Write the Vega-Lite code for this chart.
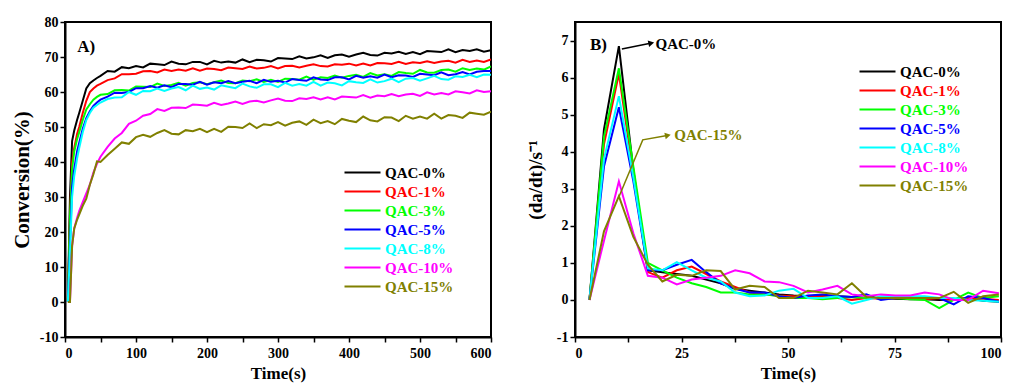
{
"$schema": "https://vega.github.io/schema/vega-lite/v6.json",
"background": "white",
"padding": {"left": 10, "top": 14, "right": 5, "bottom": 2},
"datasets": {
"conv": [
{"t":4,"QAC-0%":0,"QAC-1%":0,"QAC-3%":0,"QAC-5%":0,"QAC-8%":0,"QAC-10%":0,"QAC-15%":0},
{"t":7,"QAC-0%":30,"QAC-1%":25,"QAC-3%":24,"QAC-5%":16,"QAC-8%":14,"QAC-10%":0,"QAC-15%":0},
{"t":10,"QAC-0%":46,"QAC-1%":40,"QAC-3%":38,"QAC-5%":33,"QAC-8%":30,"QAC-10%":16,"QAC-15%":16},
{"t":13,"QAC-0%":49,"QAC-1%":44,"QAC-3%":43,"QAC-5%":38,"QAC-8%":36,"QAC-10%":21,"QAC-15%":21},
{"t":17,"QAC-0%":52,"QAC-1%":48,"QAC-3%":46.5,"QAC-5%":43,"QAC-8%":41,"QAC-10%":24,"QAC-15%":23.5},
{"t":20,"QAC-0%":54,"QAC-1%":50,"QAC-3%":48.5,"QAC-5%":45.5,"QAC-8%":44,"QAC-10%":26,"QAC-15%":25},
{"t":25,"QAC-0%":57.5,"QAC-1%":54,"QAC-3%":52,"QAC-5%":49.5,"QAC-8%":48.5,"QAC-10%":28.5,"QAC-15%":27.5},
{"t":30,"QAC-0%":61,"QAC-1%":57.5,"QAC-3%":55,"QAC-5%":52.5,"QAC-8%":52,"QAC-10%":31,"QAC-15%":29.5},
{"t":35,"QAC-0%":62.5,"QAC-1%":60,"QAC-3%":56.5,"QAC-5%":54.5,"QAC-8%":54,"QAC-10%":33.5,"QAC-15%":33.5},
{"t":40,"QAC-0%":63.3,"QAC-1%":61,"QAC-3%":57.8,"QAC-5%":56,"QAC-8%":55.5,"QAC-10%":37,"QAC-15%":36.5},
{"t":45,"QAC-0%":64,"QAC-1%":61.8,"QAC-3%":58.6,"QAC-5%":57,"QAC-8%":56.3,"QAC-10%":39.5,"QAC-15%":40.2},
{"t":50,"QAC-0%":64.6,"QAC-1%":62.3,"QAC-3%":59.2,"QAC-5%":57.8,"QAC-8%":57,"QAC-10%":41.5,"QAC-15%":40.0},
{"t":60,"QAC-0%":66.0,"QAC-1%":63.4,"QAC-3%":59.4,"QAC-5%":58.7,"QAC-8%":58.0,"QAC-10%":44.3,"QAC-15%":42.0},
{"t":70,"QAC-0%":65.8,"QAC-1%":63.9,"QAC-3%":60.5,"QAC-5%":59.8,"QAC-8%":58.4,"QAC-10%":46.7,"QAC-15%":43.8},
{"t":80,"QAC-0%":67.1,"QAC-1%":65.1,"QAC-3%":60.6,"QAC-5%":59.7,"QAC-8%":58.5,"QAC-10%":48.3,"QAC-15%":45.6},
{"t":90,"QAC-0%":66.8,"QAC-1%":65.1,"QAC-3%":60.4,"QAC-5%":60.0,"QAC-8%":60.0,"QAC-10%":50.9,"QAC-15%":45.2},
{"t":100,"QAC-0%":67.4,"QAC-1%":65.2,"QAC-3%":61.6,"QAC-5%":61.1,"QAC-8%":59.2,"QAC-10%":51.8,"QAC-15%":47.1},
{"t":110,"QAC-0%":67.0,"QAC-1%":65.9,"QAC-3%":61.5,"QAC-5%":61.1,"QAC-8%":60.3,"QAC-10%":53.2,"QAC-15%":47.8},
{"t":120,"QAC-0%":68.1,"QAC-1%":66.0,"QAC-3%":61.4,"QAC-5%":61.7,"QAC-8%":60.2,"QAC-10%":53.7,"QAC-15%":47.2},
{"t":130,"QAC-0%":67.9,"QAC-1%":65.6,"QAC-3%":62.4,"QAC-5%":61.2,"QAC-8%":61.0,"QAC-10%":55.1,"QAC-15%":48.3},
{"t":140,"QAC-0%":67.7,"QAC-1%":66.4,"QAC-3%":61.7,"QAC-5%":61.9,"QAC-8%":60.3,"QAC-10%":54.6,"QAC-15%":49.1},
{"t":150,"QAC-0%":68.7,"QAC-1%":66.0,"QAC-3%":62.0,"QAC-5%":61.4,"QAC-8%":61.0,"QAC-10%":55.5,"QAC-15%":48.1},
{"t":160,"QAC-0%":68.1,"QAC-1%":66.4,"QAC-3%":62.6,"QAC-5%":62.3,"QAC-8%":61.4,"QAC-10%":55.6,"QAC-15%":47.9},
{"t":170,"QAC-0%":67.9,"QAC-1%":66.1,"QAC-3%":61.8,"QAC-5%":62.3,"QAC-8%":60.5,"QAC-10%":55.4,"QAC-15%":49.1},
{"t":180,"QAC-0%":68.6,"QAC-1%":66.8,"QAC-3%":62.6,"QAC-5%":62.1,"QAC-8%":61.8,"QAC-10%":56.4,"QAC-15%":48.8},
{"t":190,"QAC-0%":68.6,"QAC-1%":66.1,"QAC-3%":62.8,"QAC-5%":62.9,"QAC-8%":60.9,"QAC-10%":56.3,"QAC-15%":49.5},
{"t":200,"QAC-0%":67.9,"QAC-1%":66.7,"QAC-3%":62.2,"QAC-5%":62.1,"QAC-8%":61.3,"QAC-10%":56.1,"QAC-15%":48.5},
{"t":210,"QAC-0%":68.9,"QAC-1%":66.6,"QAC-3%":62.8,"QAC-5%":62.8,"QAC-8%":60.7,"QAC-10%":56.9,"QAC-15%":49.5},
{"t":220,"QAC-0%":68.4,"QAC-1%":66.2,"QAC-3%":63.3,"QAC-5%":62.5,"QAC-8%":61.9,"QAC-10%":56.3,"QAC-15%":48.6},
{"t":230,"QAC-0%":68.7,"QAC-1%":67.0,"QAC-3%":62.6,"QAC-5%":63.1,"QAC-8%":61.5,"QAC-10%":56.7,"QAC-15%":50.1},
{"t":240,"QAC-0%":68.4,"QAC-1%":66.8,"QAC-3%":62.5,"QAC-5%":62.5,"QAC-8%":61.1,"QAC-10%":57.3,"QAC-15%":50.0},
{"t":250,"QAC-0%":69.3,"QAC-1%":66.6,"QAC-3%":63.3,"QAC-5%":62.9,"QAC-8%":62.4,"QAC-10%":56.6,"QAC-15%":49.7},
{"t":260,"QAC-0%":68.5,"QAC-1%":67.3,"QAC-3%":63.1,"QAC-5%":63.2,"QAC-8%":61.6,"QAC-10%":57.3,"QAC-15%":51.0},
{"t":270,"QAC-0%":69.2,"QAC-1%":66.7,"QAC-3%":63.6,"QAC-5%":62.5,"QAC-8%":61.2,"QAC-10%":57.5,"QAC-15%":49.7},
{"t":280,"QAC-0%":69.1,"QAC-1%":66.9,"QAC-3%":62.9,"QAC-5%":63.5,"QAC-8%":62.2,"QAC-10%":57.0,"QAC-15%":50.8},
{"t":290,"QAC-0%":68.7,"QAC-1%":67.4,"QAC-3%":63.5,"QAC-5%":62.9,"QAC-8%":62.2,"QAC-10%":57.6,"QAC-15%":50.5},
{"t":300,"QAC-0%":69.7,"QAC-1%":66.7,"QAC-3%":62.9,"QAC-5%":63.2,"QAC-8%":61.4,"QAC-10%":58.1,"QAC-15%":51.4},
{"t":310,"QAC-0%":69.6,"QAC-1%":67.4,"QAC-3%":63.8,"QAC-5%":62.7,"QAC-8%":62.6,"QAC-10%":57.5,"QAC-15%":50.4},
{"t":320,"QAC-0%":69.4,"QAC-1%":67.5,"QAC-3%":63.7,"QAC-5%":63.7,"QAC-8%":61.8,"QAC-10%":57.4,"QAC-15%":51.2},
{"t":330,"QAC-0%":70.2,"QAC-1%":67.0,"QAC-3%":63.5,"QAC-5%":63.4,"QAC-8%":62.3,"QAC-10%":58.2,"QAC-15%":51.6},
{"t":340,"QAC-0%":69.6,"QAC-1%":67.5,"QAC-3%":64.4,"QAC-5%":63.2,"QAC-8%":61.8,"QAC-10%":58.0,"QAC-15%":50.6},
{"t":350,"QAC-0%":69.9,"QAC-1%":67.9,"QAC-3%":63.5,"QAC-5%":64.2,"QAC-8%":62.9,"QAC-10%":58.5,"QAC-15%":52.1},
{"t":360,"QAC-0%":70.5,"QAC-1%":67.4,"QAC-3%":64.2,"QAC-5%":63.6,"QAC-8%":61.8,"QAC-10%":57.9,"QAC-15%":51.1},
{"t":370,"QAC-0%":69.7,"QAC-1%":67.3,"QAC-3%":64.0,"QAC-5%":63.4,"QAC-8%":62.7,"QAC-10%":58.5,"QAC-15%":51.7},
{"t":380,"QAC-0%":70.5,"QAC-1%":67.9,"QAC-3%":64.7,"QAC-5%":64.2,"QAC-8%":62.5,"QAC-10%":57.9,"QAC-15%":50.8},
{"t":390,"QAC-0%":70.7,"QAC-1%":67.8,"QAC-3%":64.1,"QAC-5%":64.2,"QAC-8%":61.9,"QAC-10%":58.7,"QAC-15%":52.3},
{"t":400,"QAC-0%":70.1,"QAC-1%":68.1,"QAC-3%":64.6,"QAC-5%":63.6,"QAC-8%":63.1,"QAC-10%":58.6,"QAC-15%":51.8},
{"t":410,"QAC-0%":70.7,"QAC-1%":67.6,"QAC-3%":64.9,"QAC-5%":64.6,"QAC-8%":62.8,"QAC-10%":58.4,"QAC-15%":51.4},
{"t":420,"QAC-0%":71.2,"QAC-1%":68.1,"QAC-3%":64.3,"QAC-5%":64.1,"QAC-8%":62.6,"QAC-10%":59.1,"QAC-15%":53.0},
{"t":430,"QAC-0%":70.6,"QAC-1%":67.6,"QAC-3%":65.4,"QAC-5%":64.5,"QAC-8%":63.6,"QAC-10%":58.4,"QAC-15%":51.9},
{"t":440,"QAC-0%":70.4,"QAC-1%":68.3,"QAC-3%":64.7,"QAC-5%":64.1,"QAC-8%":62.7,"QAC-10%":59.0,"QAC-15%":51.6},
{"t":450,"QAC-0%":71.2,"QAC-1%":68.2,"QAC-3%":65.1,"QAC-5%":65.0,"QAC-8%":63.1,"QAC-10%":58.8,"QAC-15%":52.8},
{"t":460,"QAC-0%":71.0,"QAC-1%":68.0,"QAC-3%":64.6,"QAC-5%":64.2,"QAC-8%":63.8,"QAC-10%":59.4,"QAC-15%":52.7},
{"t":470,"QAC-0%":71.5,"QAC-1%":68.6,"QAC-3%":65.7,"QAC-5%":64.8,"QAC-8%":62.8,"QAC-10%":58.8,"QAC-15%":51.7},
{"t":480,"QAC-0%":70.9,"QAC-1%":68.0,"QAC-3%":65.4,"QAC-5%":64.7,"QAC-8%":63.8,"QAC-10%":59.3,"QAC-15%":53.2},
{"t":490,"QAC-0%":71.4,"QAC-1%":68.5,"QAC-3%":65.2,"QAC-5%":64.3,"QAC-8%":64.0,"QAC-10%":59.5,"QAC-15%":52.4},
{"t":500,"QAC-0%":70.8,"QAC-1%":68.3,"QAC-3%":66.3,"QAC-5%":65.2,"QAC-8%":63.2,"QAC-10%":58.9,"QAC-15%":53.0},
{"t":510,"QAC-0%":71.7,"QAC-1%":68.8,"QAC-3%":65.6,"QAC-5%":65.0,"QAC-8%":63.9,"QAC-10%":59.9,"QAC-15%":52.4},
{"t":520,"QAC-0%":71.6,"QAC-1%":68.3,"QAC-3%":65.5,"QAC-5%":64.8,"QAC-8%":64.6,"QAC-10%":59.3,"QAC-15%":53.8},
{"t":530,"QAC-0%":71.4,"QAC-1%":68.7,"QAC-3%":66.3,"QAC-5%":65.6,"QAC-8%":63.7,"QAC-10%":59.7,"QAC-15%":52.4},
{"t":540,"QAC-0%":72.2,"QAC-1%":68.9,"QAC-3%":66.4,"QAC-5%":64.8,"QAC-8%":63.5,"QAC-10%":59.3,"QAC-15%":53.4},
{"t":550,"QAC-0%":71.4,"QAC-1%":68.4,"QAC-3%":65.8,"QAC-5%":65.1,"QAC-8%":64.5,"QAC-10%":60.2,"QAC-15%":53.2},
{"t":560,"QAC-0%":72.0,"QAC-1%":69.2,"QAC-3%":66.8,"QAC-5%":65.7,"QAC-8%":64.3,"QAC-10%":59.9,"QAC-15%":52.6},
{"t":570,"QAC-0%":71.7,"QAC-1%":68.6,"QAC-3%":66.3,"QAC-5%":65.0,"QAC-8%":64.9,"QAC-10%":59.6,"QAC-15%":54.1},
{"t":580,"QAC-0%":72.2,"QAC-1%":69.0,"QAC-3%":66.7,"QAC-5%":65.8,"QAC-8%":64.2,"QAC-10%":60.5,"QAC-15%":53.8},
{"t":590,"QAC-0%":71.5,"QAC-1%":68.6,"QAC-3%":66.4,"QAC-5%":66.0,"QAC-8%":65.0,"QAC-10%":60.0,"QAC-15%":53.5},
{"t":600,"QAC-0%":71.9,"QAC-1%":69.3,"QAC-3%":67.3,"QAC-5%":66.0,"QAC-8%":64.9,"QAC-10%":60.2,"QAC-15%":54.4}
],
"rate": [
{"t":3.4,"QAC-0%":0,"QAC-1%":0,"QAC-3%":0,"QAC-5%":0,"QAC-8%":0,"QAC-10%":0,"QAC-15%":0},
{"t":6.8,"QAC-0%":4.6,"QAC-1%":4.2,"QAC-3%":4.4,"QAC-5%":3.6,"QAC-8%":3.8,"QAC-10%":1.6,"QAC-15%":1.85},
{"t":10.3,"QAC-0%":6.85,"QAC-1%":6.1,"QAC-3%":6.25,"QAC-5%":5.2,"QAC-8%":5.5,"QAC-10%":3.2,"QAC-15%":2.8},
{"t":13.7,"QAC-0%":3.5,"QAC-1%":3.4,"QAC-3%":3.6,"QAC-5%":3.2,"QAC-8%":3.3,"QAC-10%":1.8,"QAC-15%":1.7},
{"t":17.1,"QAC-0%":0.8,"QAC-1%":0.75,"QAC-3%":1.0,"QAC-5%":0.8,"QAC-8%":0.85,"QAC-10%":0.65,"QAC-15%":0.95},
{"t":20.5,"QAC-0%":0.75,"QAC-1%":0.6,"QAC-3%":0.8,"QAC-5%":0.8,"QAC-8%":0.8,"QAC-10%":0.6,"QAC-15%":0.5},
{"t":23.9,"QAC-0%":0.7,"QAC-1%":0.8,"QAC-3%":0.6,"QAC-5%":0.95,"QAC-8%":1.02,"QAC-10%":0.42,"QAC-15%":0.68},
{"t":27.4,"QAC-0%":0.65,"QAC-1%":0.9,"QAC-3%":0.45,"QAC-5%":1.08,"QAC-8%":0.8,"QAC-10%":0.55,"QAC-15%":0.65},
{"t":30.8,"QAC-0%":0.55,"QAC-1%":0.7,"QAC-3%":0.35,"QAC-5%":0.75,"QAC-8%":0.6,"QAC-10%":0.6,"QAC-15%":0.8},
{"t":34.2,"QAC-0%":0.45,"QAC-1%":0.5,"QAC-3%":0.2,"QAC-5%":0.45,"QAC-8%":0.5,"QAC-10%":0.65,"QAC-15%":0.78},
{"t":37.6,"QAC-0%":0.3,"QAC-1%":0.35,"QAC-3%":0.2,"QAC-5%":0.3,"QAC-8%":0.2,"QAC-10%":0.8,"QAC-15%":0.28},
{"t":41.0,"QAC-0%":0.25,"QAC-1%":0.2,"QAC-3%":0.15,"QAC-5%":0.2,"QAC-8%":0.1,"QAC-10%":0.72,"QAC-15%":0.38},
{"t":44.5,"QAC-0%":0.2,"QAC-1%":0.15,"QAC-3%":0.15,"QAC-5%":0.2,"QAC-8%":0.12,"QAC-10%":0.5,"QAC-15%":0.35},
{"t":47.9,"QAC-0%":0.15,"QAC-1%":0.12,"QAC-3%":0.1,"QAC-5%":0.1,"QAC-8%":0.25,"QAC-10%":0.48,"QAC-15%":0.05},
{"t":51.3,"QAC-0%":0.12,"QAC-1%":0.1,"QAC-3%":0.05,"QAC-5%":0.05,"QAC-8%":0.3,"QAC-10%":0.38,"QAC-15%":0.05},
{"t":54.7,"QAC-0%":0.1,"QAC-1%":0.08,"QAC-3%":0.05,"QAC-5%":0.12,"QAC-8%":0.05,"QAC-10%":0.2,"QAC-15%":0.25},
{"t":58.1,"QAC-0%":0.12,"QAC-1%":0.1,"QAC-3%":0.02,"QAC-5%":0.15,"QAC-8%":0.05,"QAC-10%":0.28,"QAC-15%":0.2},
{"t":61.6,"QAC-0%":0.1,"QAC-1%":0.05,"QAC-3%":0.05,"QAC-5%":0.1,"QAC-8%":0.1,"QAC-10%":0.38,"QAC-15%":0.15},
{"t":65.0,"QAC-0%":0.08,"QAC-1%":0.0,"QAC-3%":0.08,"QAC-5%":0.08,"QAC-8%":-0.1,"QAC-10%":0.15,"QAC-15%":0.45},
{"t":68.4,"QAC-0%":0.05,"QAC-1%":0.05,"QAC-3%":0.05,"QAC-5%":0.15,"QAC-8%":0.0,"QAC-10%":0.1,"QAC-15%":0.08},
{"t":71.8,"QAC-0%":0.05,"QAC-1%":0.03,"QAC-3%":0.05,"QAC-5%":0.0,"QAC-8%":0.1,"QAC-10%":0.15,"QAC-15%":0.05},
{"t":75.2,"QAC-0%":0.03,"QAC-1%":0.05,"QAC-3%":0.05,"QAC-5%":0.05,"QAC-8%":0.1,"QAC-10%":0.12,"QAC-15%":0.05},
{"t":78.7,"QAC-0%":0.02,"QAC-1%":0.05,"QAC-3%":0.02,"QAC-5%":0.05,"QAC-8%":0.1,"QAC-10%":0.12,"QAC-15%":0.05},
{"t":82.1,"QAC-0%":0.02,"QAC-1%":0.02,"QAC-3%":0.0,"QAC-5%":0.05,"QAC-8%":0.1,"QAC-10%":0.2,"QAC-15%":0.05},
{"t":85.5,"QAC-0%":0.0,"QAC-1%":0.05,"QAC-3%":-0.22,"QAC-5%":0.05,"QAC-8%":0.05,"QAC-10%":0.15,"QAC-15%":0.05},
{"t":88.9,"QAC-0%":0.02,"QAC-1%":0.0,"QAC-3%":0.0,"QAC-5%":-0.12,"QAC-8%":0.05,"QAC-10%":0.0,"QAC-15%":0.22},
{"t":92.3,"QAC-0%":0.05,"QAC-1%":0.05,"QAC-3%":0.2,"QAC-5%":0.1,"QAC-8%":0.0,"QAC-10%":0.0,"QAC-15%":-0.08},
{"t":95.8,"QAC-0%":-0.02,"QAC-1%":0.03,"QAC-3%":0.05,"QAC-5%":0.05,"QAC-8%":-0.02,"QAC-10%":0.25,"QAC-15%":0.1},
{"t":99.5,"QAC-0%":-0.05,"QAC-1%":0.0,"QAC-3%":0.1,"QAC-5%":-0.05,"QAC-8%":-0.05,"QAC-10%":0.18,"QAC-15%":0.15}
]
},
"hconcat": [
{
"width": 426, "height": 315,
"layer": [
{
"data": {"name": "conv"},
"transform": [{"fold": ["QAC-0%","QAC-1%","QAC-3%","QAC-5%","QAC-8%","QAC-10%","QAC-15%"], "as": ["series","value"]}],
"mark": {"type": "line", "strokeWidth": 2, "clip": true},
"encoding": {
"x": {"field": "t", "type": "quantitative", "scale": {"domain": [0,600], "nice": false, "zero": false},
 "axis": {"title": "Time(s)", "values": [0,50,100,150,200,250,300,350,400,450,500,550,600], "tickCount": 100, "format": "d", "labelExpr": "datum.value % 100 === 0 ? datum.label : ''", "labelPadding": 4, "titlePadding": 5}},
"y": {"field": "value", "type": "quantitative", "scale": {"domain": [-10,80], "nice": false, "zero": false},
 "axis": {"title": "Conversion(%)", "values": [-10,0,10,20,30,40,50,60,70,80], "tickCount": 100, "format": "d", "labelExpr": "replace(datum.label, '−', '-')", "titleFontSize": 21, "titlePadding": 7}},
"color": {"field": "series", "type": "nominal",
 "scale": {"domain": ["QAC-0%","QAC-1%","QAC-3%","QAC-5%","QAC-8%","QAC-10%","QAC-15%"], "range": ["#000000","#FF0000","#00FF00","#0000FF","#00FFFF","#FF00FF","#808000"]},
 "legend": {"orient": "none", "legendX": 290, "legendY": 143, "title": null, "symbolType": "M-3,0H3", "symbolSize": 144, "symbolStrokeWidth": 2, "labelOffset": 15, "rowPadding": 3, "padding": 0,
  "encode": {"labels": {"update": {"fill": {"scale": "color", "field": "value"}}}}}}
}
},
{
"data": {"values": [{"x": 30, "y": 72.8, "label": "A)"}]},
"mark": {"type": "text", "font": "Liberation Serif", "fontWeight": "bold", "fontSize": 17, "color": "black"},
"encoding": {"x": {"field": "x", "type": "quantitative"}, "y": {"field": "y", "type": "quantitative"}, "text": {"field": "label"}}
}
]
},
{
"width": 426, "height": 315,
"layer": [
{
"data": {"name": "rate"},
"transform": [{"fold": ["QAC-0%","QAC-1%","QAC-3%","QAC-5%","QAC-8%","QAC-10%","QAC-15%"], "as": ["series","value"]}],
"mark": {"type": "line", "strokeWidth": 2, "clip": true},
"encoding": {
"x": {"field": "t", "type": "quantitative", "scale": {"domain": [0,100], "nice": false, "zero": false},
 "axis": {"title": "Time(s)", "values": [0,12.5,25,37.5,50,62.5,75,87.5,100], "tickCount": 100, "format": "d", "labelExpr": "datum.value % 25 === 0 ? datum.label : ''", "labelPadding": 4, "titlePadding": 5}},
"y": {"field": "value", "type": "quantitative", "scale": {"domain": [-1,7.5], "nice": false, "zero": false},
 "axis": {"title": "(da/dt)/s⁻¹", "values": [-1,0,1,2,3,4,5,6,7], "tickCount": 100, "format": "d", "labelExpr": "replace(datum.label, '−', '-')", "titleFontSize": 19, "titlePadding": 11}},
"color": {"field": "series", "type": "nominal",
 "scale": {"domain": ["QAC-0%","QAC-1%","QAC-3%","QAC-5%","QAC-8%","QAC-10%","QAC-15%"], "range": ["#000000","#FF0000","#00FF00","#0000FF","#00FFFF","#FF00FF","#808000"]},
 "legend": {"orient": "none", "legendX": 295, "legendY": 42, "title": null, "symbolType": "M-3,0H3", "symbolSize": 144, "symbolStrokeWidth": 2, "labelOffset": 15, "rowPadding": 3, "padding": 0,
  "encode": {"labels": {"update": {"fill": {"scale": "color", "field": "value"}}}}}}
}
},
{
"data": {"values": [{"x": 11.0, "y": 6.77}, {"x": 17.4, "y": 6.92}]},
"mark": {"type": "line", "color": "black", "strokeWidth": 1.5},
"encoding": {"x": {"field": "x", "type": "quantitative"}, "y": {"field": "y", "type": "quantitative"}}
},
{
"data": {"values": [{"x": 17.9, "y": 6.93}]},
"mark": {"type": "point", "shape": "triangle-right", "filled": true, "color": "black", "size": 45, "opacity": 1, "angle": 348},
"encoding": {"x": {"field": "x", "type": "quantitative"}, "y": {"field": "y", "type": "quantitative"}}
},
{
"data": {"values": [{"x": 18.9, "y": 6.9, "label": "QAC-0%"}]},
"mark": {"type": "text", "align": "left", "baseline": "middle", "font": "Liberation Serif", "fontWeight": "bold", "fontSize": 15, "color": "black"},
"encoding": {"x": {"field": "x", "type": "quantitative"}, "y": {"field": "y", "type": "quantitative"}, "text": {"field": "label"}}
},
{
"data": {"values": [{"x": 10.2, "y": 2.75, "o": 1}, {"x": 15.9, "y": 4.32, "o": 2}, {"x": 21.3, "y": 4.43, "o": 3}]},
"mark": {"type": "line", "color": "#808000", "strokeWidth": 1.5},
"encoding": {"x": {"field": "x", "type": "quantitative"}, "y": {"field": "y", "type": "quantitative"}, "order": {"field": "o"}}
},
{
"data": {"values": [{"x": 21.8, "y": 4.44}]},
"mark": {"type": "point", "shape": "triangle-right", "filled": true, "color": "#808000", "size": 45, "opacity": 1, "angle": 348},
"encoding": {"x": {"field": "x", "type": "quantitative"}, "y": {"field": "y", "type": "quantitative"}}
},
{
"data": {"values": [{"x": 23.3, "y": 4.45, "label": "QAC-15%"}]},
"mark": {"type": "text", "align": "left", "baseline": "middle", "font": "Liberation Serif", "fontWeight": "bold", "fontSize": 15, "color": "#808000"},
"encoding": {"x": {"field": "x", "type": "quantitative"}, "y": {"field": "y", "type": "quantitative"}, "text": {"field": "label"}}
},
{
"data": {"values": [{"x": 5.5, "y": 6.88, "label": "B)"}]},
"mark": {"type": "text", "font": "Liberation Serif", "fontWeight": "bold", "fontSize": 17, "color": "black"},
"encoding": {"x": {"field": "x", "type": "quantitative"}, "y": {"field": "y", "type": "quantitative"}, "text": {"field": "label"}}
}
]
}
],
"spacing": 32,
"resolve": {"legend": {"color": "independent"}},
"config": {
"font": "Liberation Serif",
"view": {"stroke": "black", "strokeWidth": 2},
"axis": {"labelFont": "Liberation Serif", "labelFontWeight": "bold", "labelFontSize": 14, "labelColor": "black", "titleFont": "Liberation Serif", "titleFontWeight": "bold", "titleFontSize": 17, "titleColor": "black", "domainColor": "black", "domainWidth": 2, "tickColor": "black", "tickWidth": 1.5, "tickSize": 5, "grid": false, "labelPadding": 2, "labelOverlap": false},
"legend": {"labelFont": "Liberation Serif", "labelFontWeight": "bold", "labelFontSize": 15}
}
}
